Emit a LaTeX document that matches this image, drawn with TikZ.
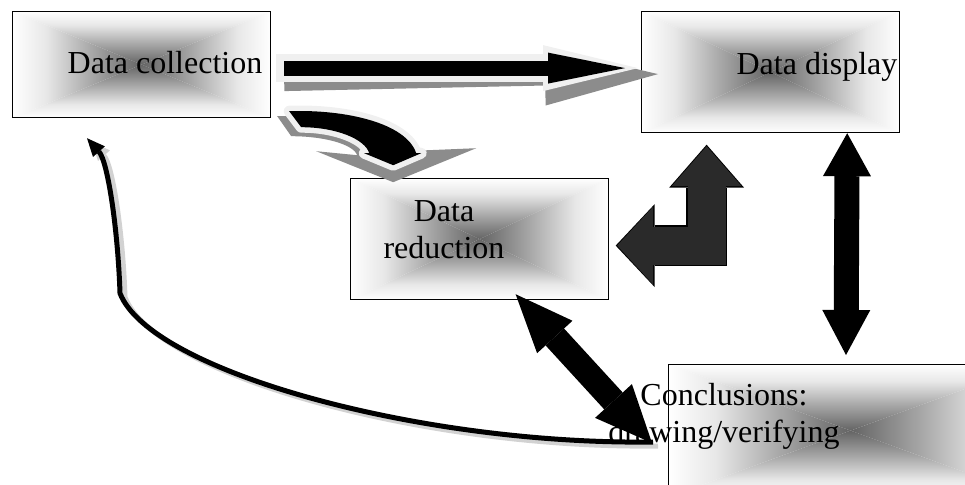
\documentclass[tikz,border=0pt]{standalone}
\usepackage{fontspec}
\setmainfont{Liberation Serif}
\usepackage{xcolor}
\usepackage{tikz}
\usetikzlibrary{calc,arrows.meta,backgrounds}
\definecolor{boxgray}{HTML}{646464}
\definecolor{shadowgray}{HTML}{8C8C8C}
\definecolor{rimgray}{HTML}{F0F0F0}
\definecolor{trailgray}{HTML}{D2D2D2}
\definecolor{bendgray}{HTML}{2A2A2A}
\pgfdeclareverticalshading{boxfade}{100bp}{color(0bp)=(boxgray); color(25bp)=(boxgray); color(45bp)=(boxgray!55); color(62bp)=(boxgray!15); color(75bp)=(white); color(100bp)=(white)}
\tikzset{
  gradbox/.style={draw=black, line width=1.2pt, inner sep=0pt, anchor=north west},
  boxtext/.style={font=\fontsize{32}{37}\selectfont, inner sep=0pt, align=center},
}
\newcommand{\stagebox}[4]{
  \node[gradbox, minimum width=#2, minimum height=#3] (#1) at #4 {};
  \begin{scope}[on background layer]
    \shade[shading=boxfade, shading angle=0] (#1.north west) -- (#1.north east) -- (#1.center) -- cycle;
    \shade[shading=boxfade, shading angle=180] (#1.south west) -- (#1.south east) -- (#1.center) -- cycle;
    \shade[shading=boxfade, shading angle=90] (#1.north west) -- (#1.south west) -- (#1.center) -- cycle;
    \shade[shading=boxfade, shading angle=270] (#1.north east) -- (#1.south east) -- (#1.center) -- cycle;
  \end{scope}
}
\newcommand{\bendpath}{(0,0) .. controls (57,-2) and (117,12) .. (127,42) -- (132,42) -- (104,54) -- (75,42) -- (80,42) .. controls (76,28) and (47,16) .. (12,16) -- cycle}

\begin{document}
\begin{tikzpicture}[x=1pt,y=-1pt]
\useasboundingbox (0,0) rectangle (965,484);

\stagebox{collect}{258pt}{106pt}{(12,11)}
\stagebox{display}{258pt}{121pt}{(641,11)}
\stagebox{reduce}{258pt}{121pt}{(350,178)}
\stagebox{concl}{364pt}{132pt}{(668,364)}

\node[boxtext, anchor=base] (collectlbl) at (165,74) {Data collection};
\node[boxtext, anchor=base] (displaylbl) at (817,75) {Data display};
\node[boxtext] (reducelbl) at (444,230) {Data\\reduction};
\node[boxtext] (concllbl) at (724,416) {Conclusions:\\drawing/verifying};

\coordinate (hstart) at ($(collect.east)+(13,3.5)$);
\coordinate (hend) at ($(display.west)+(-16,-4)$);
\draw[shadowgray, line width=18pt, -{Triangle[length=113pt,width=58pt,line width=0pt]}] ($(hstart)+(0,14)$) -- ($(hend)+(33,6)$);
\draw[rimgray, line width=28pt, -{Triangle[length=95pt,width=46pt,line width=0pt]}] ($(hstart)+(-8,0)$) -- ($(hend)+(13,0)$);
\draw[black, line width=15pt, -{Triangle[length=77pt,width=31pt,line width=0pt]}] (hstart) -- (hend);

\coordinate (cstart) at ($(collect.south east)+(18,-7)$);
\begin{scope}[shift={(cstart)}]
\fill[shadowgray] (-12,5) .. controls (45,3) and (105,17) .. (115,40) -- (187,37) -- (104,71) -- (27,40) -- (68,44) .. controls (64,33) and (35,25) .. (2,25) -- cycle;
\draw[rimgray, fill=rimgray, line width=11pt, line join=round] \bendpath;
\fill[black] \bendpath;
\end{scope}

\coordinate (ltip) at ($(reduce.east)+(8,6.5)$);
\coordinate (utip) at ($(display.south)+(-64,13)$);
\coordinate (lbend) at (utip |- ltip);
\draw[black, line width=41pt, {Triangle[length=39pt,width=83pt,line width=0pt]}-{Triangle[length=43pt,width=75pt,line width=0pt]}] ($(ltip)+(-1.5,0)$) -- (lbend) -- ($(utip)+(0,-1.5)$);
\draw[bendgray, line width=38pt, {Triangle[length=36pt,width=78pt,line width=0pt]}-{Triangle[length=40pt,width=70pt,line width=0pt]}] (ltip) -- (lbend) -- (utip);

\coordinate (vtop) at ($(display.south east)+(-53,0)$);
\coordinate (vbot) at ($(concl.north west)+(178,-9)$);
\draw[black, line width=25pt, {Triangle[length=43pt,width=48pt,line width=0pt]}-{Triangle[length=45pt,width=48pt,line width=0pt]}] (vtop) -- (vbot);

\coordinate (dtop) at ($(reduce.south)+(36,-6)$);
\coordinate (dbot) at ($(concl.north west)+(-16,79)$);
\draw[black, line width=25pt, {Triangle[length=58pt,width=48pt,line width=0pt]}-{Triangle[length=57pt,width=50pt,line width=0pt]}] (dtop) -- (dbot);

\coordinate (rstart) at ($(concl.north west)+(-15,78)$);
\coordinate (rend) at ($(collect.south west)+(75,20)$);
\coordinate (rbend) at ($(rend)+(33,155)$);
\coordinate (rneck) at ($(rend)+(12,13.5)$);
\draw[trailgray, line width=5pt, transform canvas={xshift=5pt,yshift=-4pt}, -{Triangle[length=18pt,width=16pt,line width=0pt]}] (rstart) .. controls ($(rstart)+(-233,3)$) and ($(rbend)+(30,78)$) .. (rbend) .. controls ($(rbend)+(-2,-62)$) and ($(rneck)+(9,10)$) .. (rneck) -- (rend);
\draw[black, line width=5pt, -{Triangle[length=18pt,width=16pt,line width=0pt]}] (rstart) .. controls ($(rstart)+(-233,3)$) and ($(rbend)+(30,78)$) .. (rbend) .. controls ($(rbend)+(-2,-62)$) and ($(rneck)+(9,10)$) .. (rneck) -- (rend);
\end{tikzpicture}
\end{document}
